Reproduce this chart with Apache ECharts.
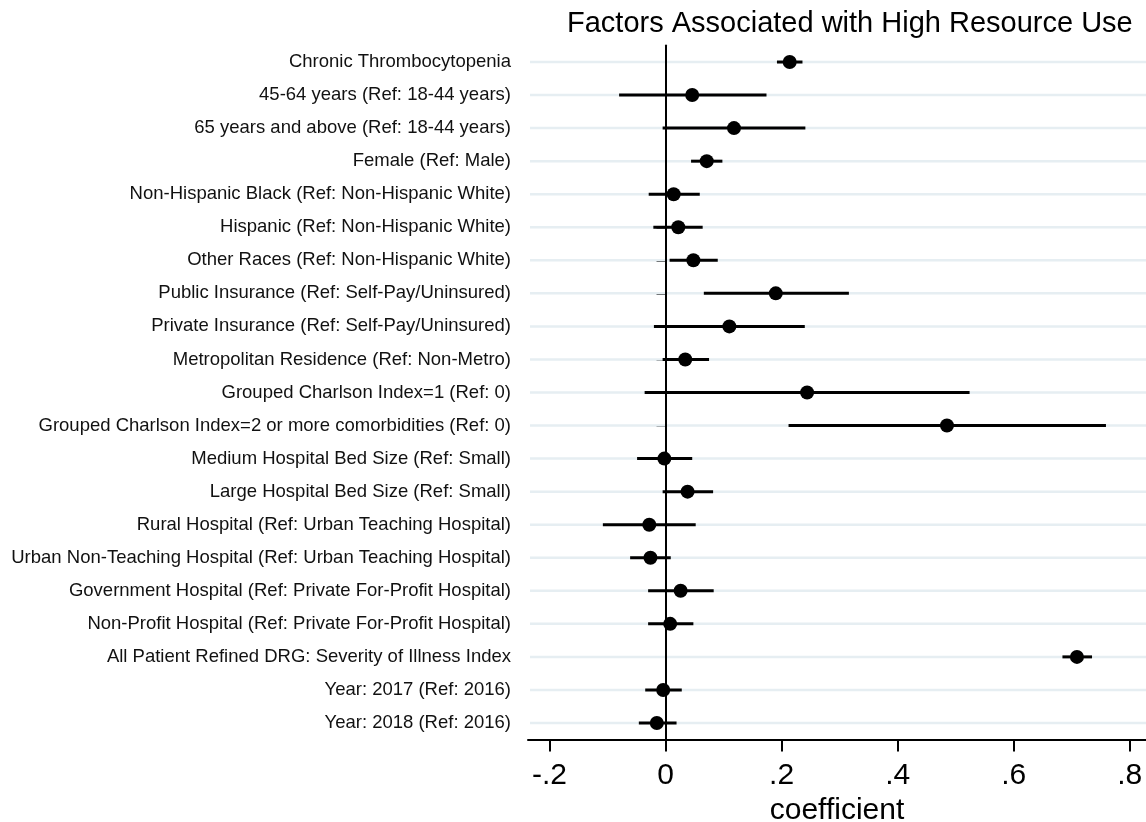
<!DOCTYPE html>
<html>
<head>
<meta charset="utf-8">
<script src="https://cdn.jsdelivr.net/npm/echarts@6/dist/echarts.min.js"></script>
<style>
  html, body { margin: 0; padding: 0; background: #fff; }
  #my_chart { width: 1146px; height: 822px; }
</style>
</head>
<body>
<div id="my_chart"></div>
<script>
// row labels, top to bottom
var categories = [
    'Chronic Thrombocytopenia',
    '45-64 years (Ref: 18-44 years)',
    '65 years and above (Ref: 18-44 years)',
    'Female (Ref: Male)',
    'Non-Hispanic Black (Ref: Non-Hispanic White)',
    'Hispanic (Ref: Non-Hispanic White)',
    'Other Races (Ref: Non-Hispanic White)',
    'Public Insurance (Ref: Self-Pay/Uninsured)',
    'Private Insurance (Ref: Self-Pay/Uninsured)',
    'Metropolitan Residence (Ref: Non-Metro)',
    'Grouped Charlson Index=1 (Ref: 0)',
    'Grouped Charlson Index=2 or more comorbidities (Ref: 0)',
    'Medium Hospital Bed Size (Ref: Small)',
    'Large Hospital Bed Size (Ref: Small)',
    'Rural Hospital (Ref: Urban Teaching Hospital)',
    'Urban Non-Teaching Hospital (Ref: Urban Teaching Hospital)',
    'Government Hospital (Ref: Private For-Profit Hospital)',
    'Non-Profit Hospital (Ref: Private For-Profit Hospital)',
    'All Patient Refined DRG: Severity of Illness Index',
    'Year: 2017 (Ref: 2016)',
    'Year: 2018 (Ref: 2016)'
];

// point estimates
var coefs = [0.214, 0.046, 0.118, 0.071, 0.014, 0.022, 0.048, 0.190, 0.110, 0.034,
             0.244, 0.485, -0.002, 0.038, -0.028, -0.026, 0.026, 0.008, 0.709, -0.004, -0.015];
// confidence interval ends
var lower = [0.192, -0.080, -0.005, 0.044, -0.029, -0.021, 0.007, 0.066, -0.020, -0.005,
             -0.036, 0.212, -0.049, -0.005, -0.108, -0.061, -0.030, -0.030, 0.684, -0.035, -0.046];
var upper = [0.236, 0.174, 0.241, 0.098, 0.059, 0.064, 0.090, 0.316, 0.240, 0.075,
             0.524, 0.759, 0.046, 0.082, 0.052, 0.009, 0.083, 0.048, 0.735, 0.028, 0.019];

var xTicks = [-0.2, 0, 0.2, 0.4, 0.6, 0.8];
var refValue = 0;   // vertical reference line

var FONT = '"Liberation Sans", Arial, Helvetica, sans-serif';

function fmtTick(v) {
    if (Math.abs(v) < 1e-9) return '0';
    var s = String(Math.round(v * 10) / 10);
    return s.replace('0.', '.');
}

var myChart = echarts.init(document.getElementById('my_chart'));

var option = {
    animation: false,
    backgroundColor: '#fff',
    textStyle: { fontFamily: FONT },
    title: {
        text: 'Factors Associated with High Resource Use',
        left: 562,
        top: 4,
        textStyle: { fontFamily: FONT, fontSize: 29, fontWeight: 'normal', color: '#000' }
    },
    grid: {
        left: 528,
        right: 0,
        top: 45.5,
        bottom: 82.5,
        outerBoundsMode: 'none'
    },
    xAxis: {
        type: 'value',
        min: -0.237,
        max: 0.828,
        axisLine: { show: true, lineStyle: { color: '#000', width: 2 } },
        axisTick: {
            show: true, length: 12, inside: false,
            lineStyle: { color: '#000', width: 2 },
            customValues: xTicks
        },
        axisLabel: {
            customValues: xTicks,
            formatter: fmtTick,
            fontSize: 30,
            color: '#000',
            margin: 21,
            fontFamily: FONT
        },
        splitLine: { show: false },
        name: 'coefficient',
        nameLocation: 'middle',
        nameGap: 52,
        nameTextStyle: { fontSize: 30, color: '#000', fontFamily: FONT }
    },
    yAxis: {
        type: 'category',
        data: categories,
        inverse: true,
        axisLine: { show: true, lineStyle: { color: '#000', width: 2 } },
        axisTick: { show: true, alignWithLabel: true, length: 9, lineStyle: { color: '#000', width: 2 } },
        axisLabel: { fontSize: 18.5, color: '#111', margin: 17, fontFamily: FONT },
        splitLine: { show: false }
    },
    series: [
        {
            // light row guide lines
            type: 'custom',
            silent: true,
            z: 1,
            data: categories.map(function (c, i) { return [0, i]; }),
            encode: { x: 0, y: 1 },
            renderItem: function (params, api) {
                var p = api.coord([0, api.value(1)]);
                var cs = params.coordSys;
                return {
                    type: 'line',
                    shape: { x1: cs.x + 2, y1: p[1], x2: cs.x + cs.width, y2: p[1] },
                    style: { stroke: '#e6eef2', lineWidth: 2.5 }
                };
            }
        },
        {
            // zero reference line
            type: 'custom',
            silent: true,
            z: 2,
            data: [[refValue, 0]],
            encode: { x: 0, y: 1 },
            renderItem: function (params, api) {
                var p = api.coord([api.value(0), 0]);
                var cs = params.coordSys;
                var x = Math.round(p[0]);
                return {
                    type: 'line',
                    shape: { x1: x, y1: cs.y, x2: x, y2: cs.y + cs.height },
                    style: { stroke: '#000', lineWidth: 2 }
                };
            }
        },
        {
            // confidence intervals
            type: 'custom',
            silent: true,
            z: 3,
            data: categories.map(function (c, i) { return [lower[i], upper[i], i]; }),
            encode: { x: [0, 1], y: 2 },
            renderItem: function (params, api) {
                var a = api.coord([api.value(0), api.value(2)]);
                var b = api.coord([api.value(1), api.value(2)]);
                return {
                    type: 'line',
                    shape: { x1: a[0], y1: a[1], x2: b[0], y2: b[1] },
                    style: { stroke: '#000', lineWidth: 3 }
                };
            }
        },
        {
            type: 'scatter',
            z: 4,
            silent: true,
            symbol: 'circle',
            symbolSize: 14,
            itemStyle: { color: '#000', opacity: 1 },
            data: coefs.map(function (v, i) { return [v, i]; })
        }
    ]
};

myChart.setOption(option);
window.addEventListener('resize', function () { myChart.resize(); });
</script>
</body>
</html>
